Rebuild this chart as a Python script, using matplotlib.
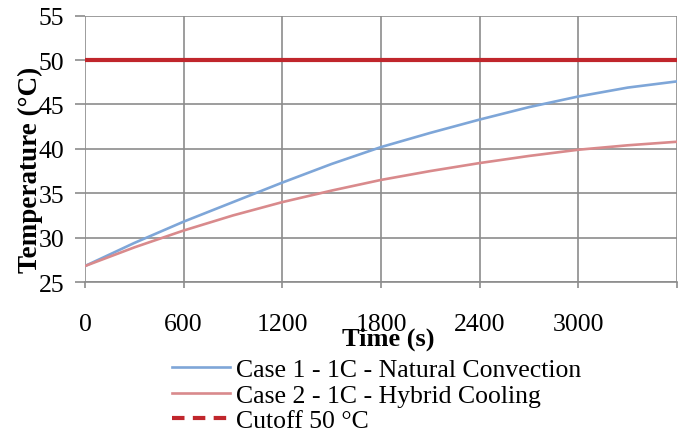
import numpy as np
import matplotlib
matplotlib.use("Agg")
import matplotlib.pyplot as plt
from matplotlib.lines import Line2D

# data
time_s = [0, 300, 600, 900, 1200, 1500, 1800, 2100, 2400, 2700, 3000, 3300, 3600]
case1_natural = [26.8, 29.4, 31.8, 34.0, 36.2, 38.3, 40.2, 41.8, 43.3, 44.7, 45.9, 46.9, 47.6]
case2_hybrid = [26.8, 28.9, 30.8, 32.5, 34.0, 35.3, 36.5, 37.5, 38.4, 39.2, 39.9, 40.4, 40.8]
cutoff_time = [0, 3600]
cutoff_temp = [50, 50]

x_ticks = [0, 600, 1200, 1800, 2400, 3000, 3600]
x_tick_labels = ["0", "600", "1200", "1800", "2400", "3000", ""]
y_ticks = [25, 30, 35, 40, 45, 50, 55]

legend_labels = ["Case 1 - 1C - Natural Convection",
                 "Case 2 - 1C - Hybrid Cooling",
                 "Cutoff 50 °C"]

plt.rcParams['font.family'] = ['Liberation Serif', 'DejaVu Serif']

W, H = 688, 435
fig = plt.figure(figsize=(W / 100, H / 100), dpi=100)
ax = fig.add_axes([85 / W, 1 - 283 / H, (677 - 85) / W, (283 - 16.7) / H])

grid_col = '#8c8c8c'
blue = '#7ea6d8'
red = '#d98a8c'
cut = '#c0262c'
fs = 18.5

ax.plot(time_s, case1_natural, color=blue, lw=1.9, zorder=3)
ax.plot(time_s, case2_hybrid, color=red, lw=1.9, zorder=3)
ax.plot(cutoff_time, cutoff_temp, color=cut, lw=3.0, zorder=4)

ax.set_xlim(0, 3600)
ax.set_ylim(25, 55)
ax.set_xticks(x_ticks)
ax.set_xticklabels(x_tick_labels)
ax.set_yticks(y_ticks)

ax.grid(True, color=grid_col, lw=1.2, zorder=1)
for s in ['top', 'right', 'left']:
    ax.spines[s].set_visible(False)
ax.spines['bottom'].set_color(grid_col)
ax.spines['bottom'].set_linewidth(1.2)

ax.tick_params(axis='x', direction='out', length=4, width=1.2, color=grid_col,
               pad=18, labelsize=fs)
ax.tick_params(axis='y', direction='out', length=7, width=1.2, color=grid_col,
               pad=8, labelsize=fs)

fig.text(30 / W, 1 - 170 / H, "Temperature (°C)", rotation=90, fontsize=19.5,
         fontweight='bold', ha='center', va='center')
fig.text(388 / W, 1 - 339 / H, "Time (s)", fontsize=19,
         fontweight='bold', ha='center', va='center')

handles = [Line2D([], [], color=blue, lw=1.9),
           Line2D([], [], color=red, lw=1.9),
           Line2D([], [], color=cut, lw=3.0, ls=(0, (3, 2)))]
fig.legend(handles, legend_labels, loc='upper left',
           bbox_to_anchor=(172 / W, 1 - 359 / H), frameon=False, fontsize=fs,
           handlelength=2.25, handletextpad=0.23, labelspacing=0.1,
           borderpad=0, borderaxespad=0)

fig.savefig("out.png", dpi=100)
